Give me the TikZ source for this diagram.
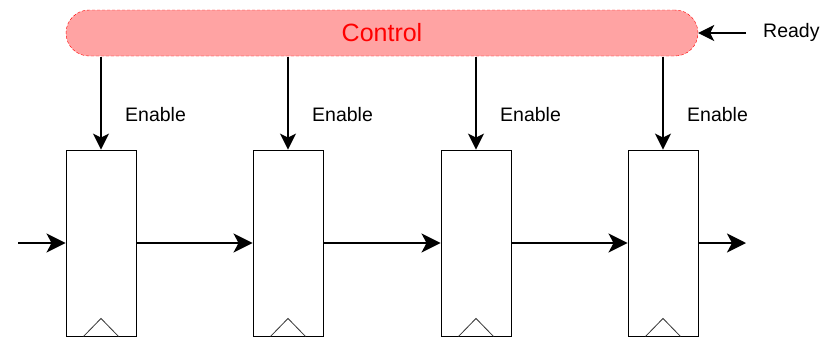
\documentclass[tikz,border=0pt]{standalone}
\usepackage{fontspec}
\setmainfont{Liberation Sans}
\usetikzlibrary{arrows.meta}
\definecolor{ctrlfill}{RGB}{255,163,163}
\definecolor{ctrlred}{RGB}{255,0,0}
\tikzset{
  ctrl/.style={draw=ctrlred, dashed, dash pattern=on 3pt off 2pt, fill=ctrlfill,
    rounded corners=23pt, minimum width=632pt, minimum height=46pt,
    inner sep=0pt, font=\fontsize{25}{28}\selectfont, text=ctrlred},
  reg/.style={draw=black, line width=0.9pt, fill=white, minimum width=70pt,
    minimum height=186pt, inner sep=0pt},
  lbl/.style={font=\fontsize{19.5}{22}\selectfont, inner sep=0pt, anchor=west},
  enarrow/.style={line width=1.4pt, -{Stealth[length=16pt,width=16pt,inset=4pt]}},
  dataarrow/.style={line width=2.4pt, -{Stealth[length=19pt,width=19pt,inset=5pt]}},
  clk/.style={line width=0.8pt, draw=black!80}
}
\begin{document}
\begin{tikzpicture}[x=1pt,y=-1pt]
\useasboundingbox (0,0) rectangle (825,338);
% control unit
\node[ctrl] (control) at (382,33) {Control};
% pipeline registers
\foreach \i/\x in {1/101,2/288,3/476,4/663}{
  \node[reg] (r\i) at (\x,243) {};
  \draw[clk] ([xshift=-17.5pt]r\i.south) -- ([yshift=18pt]r\i.south) -- ([xshift=17.5pt]r\i.south);
  \coordinate (t\i) at (\x,56.5);
  \draw[enarrow] (t\i) -- (r\i.north);
  \node[lbl] (e\i) at (\x+24,115) {Enable};
}
% ready input
\coordinate (rdy) at (746,33);
\draw[enarrow] (rdy) -- (control.east);
\node[lbl] (ready) at (763,32) {Ready};
% data path
\coordinate (din) at (18,243);
\coordinate (dout) at (746,243);
\draw[dataarrow] (din) -- (r1.west);
\draw[dataarrow] (r1.east) -- (r2.west);
\draw[dataarrow] (r2.east) -- (r3.west);
\draw[dataarrow] (r3.east) -- (r4.west);
\draw[dataarrow] (r4.east) -- (dout);
\end{tikzpicture}
\end{document}
